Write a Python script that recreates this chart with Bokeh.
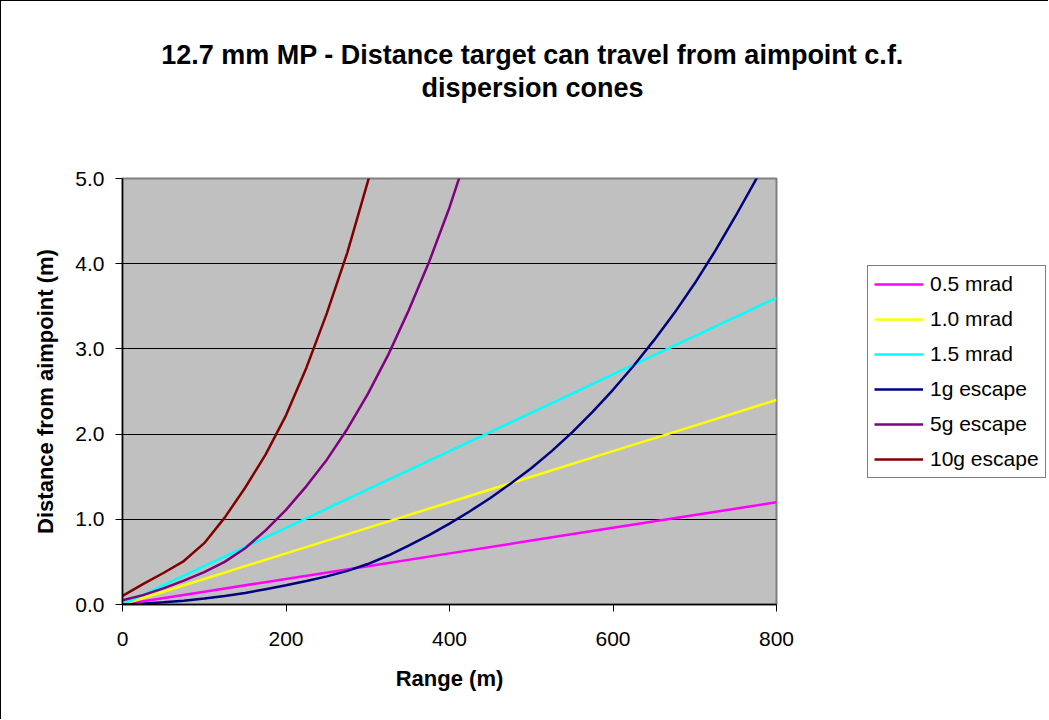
from bokeh.plotting import figure
from bokeh.layouts import column, row
from bokeh.models import (Range1d, FixedTicker, PrintfTickFormatter, Legend,
                          LegendItem, Label, ColumnDataSource)
from bokeh.embed import file_html
from bokeh.resources import INLINE

# ---------------- data ----------------
range_lin = [0, 100, 200, 300, 400, 500, 600, 700, 800]
mrad_05 = [0.00, 0.15, 0.30, 0.45, 0.60, 0.75, 0.90, 1.05, 1.20]
mrad_10 = [0.00, 0.30, 0.60, 0.90, 1.20, 1.50, 1.80, 2.10, 2.40]
mrad_15 = [0.00, 0.45, 0.90, 1.35, 1.80, 2.25, 2.70, 3.15, 3.60]

range_1g = [0, 25, 50, 75, 100, 125, 150, 175, 200, 225, 250, 275, 300, 325,
            350, 375, 400, 425, 450, 475, 500, 525, 550, 575, 600, 625, 650,
            675, 700, 725, 750, 775, 800]
escape_1g = [0.00, 0.01, 0.025, 0.045, 0.07, 0.10, 0.135, 0.18, 0.225, 0.275,
             0.33, 0.395, 0.475, 0.575, 0.69, 0.815, 0.95, 1.095, 1.25, 1.42,
             1.60, 1.80, 2.02, 2.26, 2.52, 2.80, 3.10, 3.42, 3.77, 4.15, 4.56,
             4.99, 5.44]

range_5g = [0, 25, 50, 75, 100, 125, 150, 175, 200, 225, 250, 275, 300, 325,
            350, 375, 400, 425]
escape_5g = [0.05, 0.11, 0.19, 0.28, 0.38, 0.50, 0.66, 0.87, 1.11, 1.39,
             1.70, 2.06, 2.47, 2.93, 3.45, 4.02, 4.66, 5.39]

range_10g = [0, 25, 50, 75, 100, 125, 150, 175, 200, 225, 250, 275, 300, 325]
escape_10g = [0.10, 0.24, 0.37, 0.51, 0.72, 1.02, 1.37, 1.76, 2.22, 2.78,
              3.42, 4.13, 4.96, 5.85]

series_names = ["0.5 mrad", "1.0 mrad", "1.5 mrad", "1g escape", "5g escape",
                "10g escape"]
series_colors = ["#FF00FF", "#FFFF00", "#00FFFF", "#000080", "#800080",
                 "#800000"]

x_ticks = [0, 200, 400, 600, 800]
y_ticks = [0, 1, 2, 3, 4, 5]
grid_ticks = [1, 2, 3, 4]

title_line1 = "12.7 mm MP - Distance target can travel from aimpoint c.f."
title_line2 = "dispersion cones"
x_title = "Range (m)"
y_title = "Distance from aimpoint (m)"

FONT = "Liberation Sans"
LINE_W = 2.5


def blank(fig):
    fig.axis.visible = False
    fig.grid.visible = False
    fig.outline_line_color = None
    fig.background_fill_color = "white"
    fig.border_fill_color = "white"


# ---------------- title strip ----------------
t = figure(width=1047, height=119, output_backend="svg", toolbar_location=None,
           x_range=Range1d(0, 1), y_range=Range1d(0, 1),
           min_border_left=0, min_border_right=0, min_border_top=0,
           min_border_bottom=0)
blank(t)
for txt, yy in ((title_line1, 66), (title_line2, 33)):
    t.add_layout(Label(x=531, y=yy, x_units="screen", y_units="screen",
                       text=txt, text_align="center",
                       text_baseline="alphabetic", text_font=FONT,
                       text_font_size="27px", text_font_style="bold",
                       text_color="black"))

# ---------------- main chart ----------------
p = figure(width=829, height=599, output_backend="svg", toolbar_location=None,
           x_range=Range1d(0, 800), y_range=Range1d(0, 5),
           min_border_left=121, min_border_right=54,
           min_border_top=58, min_border_bottom=115)
p.background_fill_color = "#C0C0C0"
p.border_fill_color = "white"
p.outline_line_color = "#808080"
p.outline_line_width = 2

p.xgrid.visible = False
p.ygrid.ticker = FixedTicker(ticks=grid_ticks)
p.ygrid.grid_line_color = "black"
p.ygrid.grid_line_width = 1

for ax in (p.xaxis[0], p.yaxis[0]):
    ax.axis_line_color = "black"
    ax.axis_line_width = 1.5
    ax.major_tick_line_color = "black"
    ax.major_tick_line_width = 1
    ax.major_tick_in = 0
    ax.major_tick_out = 7
    ax.minor_tick_in = 0
    ax.minor_tick_out = 0
    ax.major_label_text_font = FONT
    ax.major_label_text_font_size = "21px"
    ax.major_label_text_color = "black"
    ax.axis_label_text_font = FONT
    ax.axis_label_text_font_size = "22px"
    ax.axis_label_text_font_style = "bold"
    ax.axis_label_text_color = "black"

p.xaxis.ticker = FixedTicker(ticks=x_ticks)
p.yaxis.ticker = FixedTicker(ticks=y_ticks)
p.yaxis.formatter = PrintfTickFormatter(format="%.1f")
p.xaxis.major_label_standoff = 20
p.yaxis.major_label_standoff = 11
p.xaxis.axis_label = x_title
p.yaxis.axis_label = y_title
p.xaxis.axis_label_standoff = 17
p.yaxis.axis_label_standoff = 14

xs = [range_lin, range_lin, range_lin, range_1g, range_5g, range_10g]
ys = [mrad_05, mrad_10, mrad_15, escape_1g, escape_5g, escape_10g]
for color, xv, yv in zip(series_colors, xs, ys):
    p.line(xv, yv, line_color=color, line_width=LINE_W)

# ---------------- legend strip ----------------
# (its frame is aligned by the row with the main chart's frame)
q = figure(width=218, height=599, output_backend="svg", toolbar_location=None,
           x_range=Range1d(0, 1), y_range=Range1d(0, 1),
           min_border_left=0, min_border_right=0, min_border_top=0,
           min_border_bottom=0)
blank(q)
items = []
nan = float("nan")
for name, color in zip(series_names, series_colors):
    r = q.line(x="x", y="y", source=ColumnDataSource(dict(x=[nan], y=[nan])),
               line_color=color, line_width=LINE_W)
    items.append(LegendItem(label=name, renderers=[r]))

legend = Legend(items=items, location=(37, 126))
legend.label_text_font = FONT
legend.label_text_font_size = "21px"
legend.label_text_color = "black"
legend.glyph_width = 49
legend.glyph_height = 24
legend.label_height = 24
legend.label_standoff = 7
legend.spacing = 11
legend.padding = 6
legend.margin = 0
legend.border_line_color = "black"
legend.border_line_width = 1
legend.background_fill_color = "white"
legend.background_fill_alpha = 1
q.add_layout(legend)

layout = column(t, row(p, q))
layout.styles = {"border-left": "1px solid black", "border-top": "1px solid black"}

open("out.html", "w").write(file_html(layout, INLINE))
